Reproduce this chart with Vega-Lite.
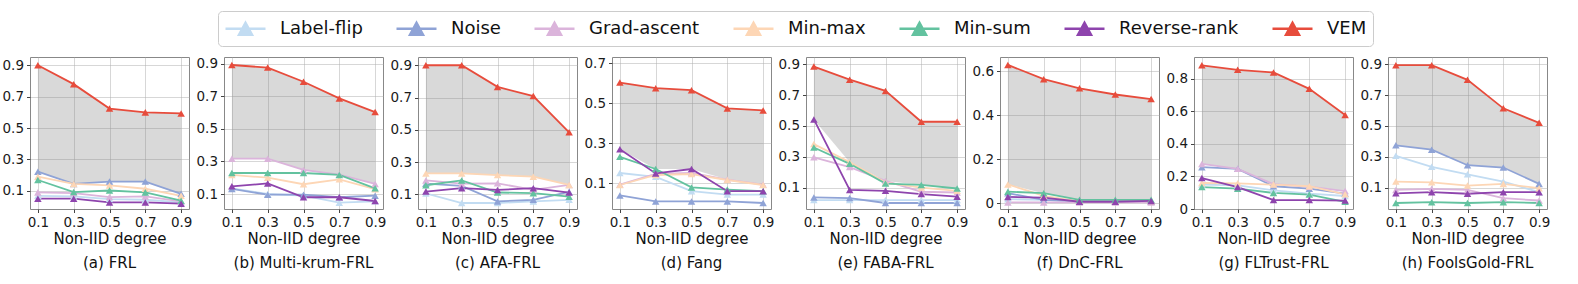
{
"$schema":"https://vega.github.io/schema/vega-lite/v6.json",
"padding":{"left":1,"top":10,"right":5,"bottom":5},
"background":"white",
"datasets":{"d":[
{"p":"a","s":"Label-flip","x":0.1,"v":0.068},{"p":"a","s":"Label-flip","x":0.3,"v":0.064},{"p":"a","s":"Label-flip","x":0.5,"v":0.047},{"p":"a","s":"Label-flip","x":0.7,"v":0.043},{"p":"a","s":"Label-flip","x":0.9,"v":0.026},
{"p":"a","s":"Noise","x":0.1,"v":0.222},{"p":"a","s":"Noise","x":0.3,"v":0.144},{"p":"a","s":"Noise","x":0.5,"v":0.159},{"p":"a","s":"Noise","x":0.7,"v":0.159},{"p":"a","s":"Noise","x":0.9,"v":0.081},
{"p":"a","s":"Grad-ascent","x":0.1,"v":0.09},{"p":"a","s":"Grad-ascent","x":0.3,"v":0.085},{"p":"a","s":"Grad-ascent","x":0.5,"v":0.06},{"p":"a","s":"Grad-ascent","x":0.7,"v":0.064},{"p":"a","s":"Grad-ascent","x":0.9,"v":0.033},
{"p":"a","s":"Min-max","x":0.1,"v":0.19},{"p":"a","s":"Min-max","x":0.3,"v":0.144},{"p":"a","s":"Min-max","x":0.5,"v":0.134},{"p":"a","s":"Min-max","x":0.7,"v":0.113},{"p":"a","s":"Min-max","x":0.9,"v":0.068},
{"p":"a","s":"Min-sum","x":0.1,"v":0.169},{"p":"a","s":"Min-sum","x":0.3,"v":0.092},{"p":"a","s":"Min-sum","x":0.5,"v":0.102},{"p":"a","s":"Min-sum","x":0.7,"v":0.09},{"p":"a","s":"Min-sum","x":0.9,"v":0.037},
{"p":"a","s":"Reverse-rank","x":0.1,"v":0.05},{"p":"a","s":"Reverse-rank","x":0.3,"v":0.05},{"p":"a","s":"Reverse-rank","x":0.5,"v":0.026},{"p":"a","s":"Reverse-rank","x":0.7,"v":0.026},{"p":"a","s":"Reverse-rank","x":0.9,"v":0.018},
{"p":"a","s":"VEM","x":0.1,"v":0.9},{"p":"a","s":"VEM","x":0.3,"v":0.78},{"p":"a","s":"VEM","x":0.5,"v":0.624},{"p":"a","s":"VEM","x":0.7,"v":0.6},{"p":"a","s":"VEM","x":0.9,"v":0.593},
{"p":"b","s":"Label-flip","x":0.1,"v":0.135},{"p":"b","s":"Label-flip","x":0.3,"v":0.1},{"p":"b","s":"Label-flip","x":0.5,"v":0.09},{"p":"b","s":"Label-flip","x":0.7,"v":0.047},{"p":"b","s":"Label-flip","x":0.9,"v":0.055},
{"p":"b","s":"Noise","x":0.1,"v":0.131},{"p":"b","s":"Noise","x":0.3,"v":0.096},{"p":"b","s":"Noise","x":0.5,"v":0.096},{"p":"b","s":"Noise","x":0.7,"v":0.08},{"p":"b","s":"Noise","x":0.9,"v":0.09},
{"p":"b","s":"Grad-ascent","x":0.1,"v":0.317},{"p":"b","s":"Grad-ascent","x":0.3,"v":0.317},{"p":"b","s":"Grad-ascent","x":0.5,"v":0.248},{"p":"b","s":"Grad-ascent","x":0.7,"v":0.219},{"p":"b","s":"Grad-ascent","x":0.9,"v":0.162},
{"p":"b","s":"Min-max","x":0.1,"v":0.217},{"p":"b","s":"Min-max","x":0.3,"v":0.2},{"p":"b","s":"Min-max","x":0.5,"v":0.16},{"p":"b","s":"Min-max","x":0.7,"v":0.19},{"p":"b","s":"Min-max","x":0.9,"v":0.13},
{"p":"b","s":"Min-sum","x":0.1,"v":0.229},{"p":"b","s":"Min-sum","x":0.3,"v":0.229},{"p":"b","s":"Min-sum","x":0.5,"v":0.229},{"p":"b","s":"Min-sum","x":0.7,"v":0.217},{"p":"b","s":"Min-sum","x":0.9,"v":0.135},
{"p":"b","s":"Reverse-rank","x":0.1,"v":0.147},{"p":"b","s":"Reverse-rank","x":0.3,"v":0.165},{"p":"b","s":"Reverse-rank","x":0.5,"v":0.08},{"p":"b","s":"Reverse-rank","x":0.7,"v":0.08},{"p":"b","s":"Reverse-rank","x":0.9,"v":0.057},
{"p":"b","s":"VEM","x":0.1,"v":0.892},{"p":"b","s":"VEM","x":0.3,"v":0.876},{"p":"b","s":"VEM","x":0.5,"v":0.789},{"p":"b","s":"VEM","x":0.7,"v":0.687},{"p":"b","s":"VEM","x":0.9,"v":0.603},
{"p":"c","s":"Label-flip","x":0.1,"v":0.106},{"p":"c","s":"Label-flip","x":0.3,"v":0.047},{"p":"c","s":"Label-flip","x":0.5,"v":0.047},{"p":"c","s":"Label-flip","x":0.7,"v":0.057},{"p":"c","s":"Label-flip","x":0.9,"v":0.067},
{"p":"c","s":"Noise","x":0.1,"v":0.167},{"p":"c","s":"Noise","x":0.3,"v":0.153},{"p":"c","s":"Noise","x":0.5,"v":0.057},{"p":"c","s":"Noise","x":0.7,"v":0.067},{"p":"c","s":"Noise","x":0.9,"v":0.116},
{"p":"c","s":"Grad-ascent","x":0.1,"v":0.187},{"p":"c","s":"Grad-ascent","x":0.3,"v":0.167},{"p":"c","s":"Grad-ascent","x":0.5,"v":0.169},{"p":"c","s":"Grad-ascent","x":0.7,"v":0.128},{"p":"c","s":"Grad-ascent","x":0.9,"v":0.159},
{"p":"c","s":"Min-max","x":0.1,"v":0.23},{"p":"c","s":"Min-max","x":0.3,"v":0.23},{"p":"c","s":"Min-max","x":0.5,"v":0.22},{"p":"c","s":"Min-max","x":0.7,"v":0.21},{"p":"c","s":"Min-max","x":0.9,"v":0.159},
{"p":"c","s":"Min-sum","x":0.1,"v":0.157},{"p":"c","s":"Min-sum","x":0.3,"v":0.187},{"p":"c","s":"Min-sum","x":0.5,"v":0.112},{"p":"c","s":"Min-sum","x":0.7,"v":0.108},{"p":"c","s":"Min-sum","x":0.9,"v":0.086},
{"p":"c","s":"Reverse-rank","x":0.1,"v":0.118},{"p":"c","s":"Reverse-rank","x":0.3,"v":0.139},{"p":"c","s":"Reverse-rank","x":0.5,"v":0.128},{"p":"c","s":"Reverse-rank","x":0.7,"v":0.139},{"p":"c","s":"Reverse-rank","x":0.9,"v":0.112},
{"p":"c","s":"VEM","x":0.1,"v":0.9},{"p":"c","s":"VEM","x":0.3,"v":0.9},{"p":"c","s":"VEM","x":0.5,"v":0.766},{"p":"c","s":"VEM","x":0.7,"v":0.709},{"p":"c","s":"VEM","x":0.9,"v":0.485},
{"p":"d","s":"Label-flip","x":0.1,"v":0.15},{"p":"d","s":"Label-flip","x":0.3,"v":0.131},{"p":"d","s":"Label-flip","x":0.5,"v":0.059},{"p":"d","s":"Label-flip","x":0.7,"v":0.042},{"p":"d","s":"Label-flip","x":0.9,"v":0.042},
{"p":"d","s":"Noise","x":0.1,"v":0.038},{"p":"d","s":"Noise","x":0.3,"v":0.008},{"p":"d","s":"Noise","x":0.5,"v":0.008},{"p":"d","s":"Noise","x":0.7,"v":0.008},{"p":"d","s":"Noise","x":0.9,"v":0.0},
{"p":"d","s":"Grad-ascent","x":0.1,"v":0.092},{"p":"d","s":"Grad-ascent","x":0.3,"v":0.145},{"p":"d","s":"Grad-ascent","x":0.5,"v":0.15},{"p":"d","s":"Grad-ascent","x":0.7,"v":0.117},{"p":"d","s":"Grad-ascent","x":0.9,"v":0.092},
{"p":"d","s":"Min-max","x":0.1,"v":0.09},{"p":"d","s":"Min-max","x":0.3,"v":0.14},{"p":"d","s":"Min-max","x":0.5,"v":0.145},{"p":"d","s":"Min-max","x":0.7,"v":0.115},{"p":"d","s":"Min-max","x":0.9,"v":0.09},
{"p":"d","s":"Min-sum","x":0.1,"v":0.231},{"p":"d","s":"Min-sum","x":0.3,"v":0.17},{"p":"d","s":"Min-sum","x":0.5,"v":0.078},{"p":"d","s":"Min-sum","x":0.7,"v":0.067},{"p":"d","s":"Min-sum","x":0.9,"v":0.059},
{"p":"d","s":"Reverse-rank","x":0.1,"v":0.269},{"p":"d","s":"Reverse-rank","x":0.3,"v":0.148},{"p":"d","s":"Reverse-rank","x":0.5,"v":0.17},{"p":"d","s":"Reverse-rank","x":0.7,"v":0.059},{"p":"d","s":"Reverse-rank","x":0.9,"v":0.059},
{"p":"d","s":"VEM","x":0.1,"v":0.602},{"p":"d","s":"VEM","x":0.3,"v":0.574},{"p":"d","s":"VEM","x":0.5,"v":0.564},{"p":"d","s":"VEM","x":0.7,"v":0.473},{"p":"d","s":"VEM","x":0.9,"v":0.463},
{"p":"e","s":"Label-flip","x":0.1,"v":0.019},{"p":"e","s":"Label-flip","x":0.3,"v":0.019},{"p":"e","s":"Label-flip","x":0.5,"v":0.019},{"p":"e","s":"Label-flip","x":0.7,"v":0.019},{"p":"e","s":"Label-flip","x":0.9,"v":0.019},
{"p":"e","s":"Noise","x":0.1,"v":0.036},{"p":"e","s":"Noise","x":0.3,"v":0.032},{"p":"e","s":"Noise","x":0.5,"v":0.0},{"p":"e","s":"Noise","x":0.7,"v":0.0},{"p":"e","s":"Noise","x":0.9,"v":0.0},
{"p":"e","s":"Grad-ascent","x":0.1,"v":0.296},{"p":"e","s":"Grad-ascent","x":0.3,"v":0.233},{"p":"e","s":"Grad-ascent","x":0.5,"v":0.143},{"p":"e","s":"Grad-ascent","x":0.7,"v":0.073},{"p":"e","s":"Grad-ascent","x":0.9,"v":0.068},
{"p":"e","s":"Min-max","x":0.1,"v":0.382},{"p":"e","s":"Min-max","x":0.3,"v":0.265},{"p":"e","s":"Min-max","x":0.5,"v":0.132},{"p":"e","s":"Min-max","x":0.7,"v":0.1},{"p":"e","s":"Min-max","x":0.9,"v":0.079},
{"p":"e","s":"Min-sum","x":0.1,"v":0.36},{"p":"e","s":"Min-sum","x":0.3,"v":0.254},{"p":"e","s":"Min-sum","x":0.5,"v":0.126},{"p":"e","s":"Min-sum","x":0.7,"v":0.117},{"p":"e","s":"Min-sum","x":0.9,"v":0.094},
{"p":"e","s":"Reverse-rank","x":0.1,"v":0.542},{"p":"e","s":"Reverse-rank","x":0.3,"v":0.085},{"p":"e","s":"Reverse-rank","x":0.5,"v":0.079},{"p":"e","s":"Reverse-rank","x":0.7,"v":0.058},{"p":"e","s":"Reverse-rank","x":0.9,"v":0.041},
{"p":"e","s":"VEM","x":0.1,"v":0.885},{"p":"e","s":"VEM","x":0.3,"v":0.8},{"p":"e","s":"VEM","x":0.5,"v":0.727},{"p":"e","s":"VEM","x":0.7,"v":0.527},{"p":"e","s":"VEM","x":0.9,"v":0.527},
{"p":"f","s":"Label-flip","x":0.1,"v":0.018},{"p":"f","s":"Label-flip","x":0.3,"v":0.015},{"p":"f","s":"Label-flip","x":0.5,"v":0.008},{"p":"f","s":"Label-flip","x":0.7,"v":0.008},{"p":"f","s":"Label-flip","x":0.9,"v":0.008},
{"p":"f","s":"Noise","x":0.1,"v":0.045},{"p":"f","s":"Noise","x":0.3,"v":0.015},{"p":"f","s":"Noise","x":0.5,"v":0.008},{"p":"f","s":"Noise","x":0.7,"v":0.008},{"p":"f","s":"Noise","x":0.9,"v":0.008},
{"p":"f","s":"Grad-ascent","x":0.1,"v":0.003},{"p":"f","s":"Grad-ascent","x":0.3,"v":0.003},{"p":"f","s":"Grad-ascent","x":0.5,"v":0.003},{"p":"f","s":"Grad-ascent","x":0.7,"v":0.003},{"p":"f","s":"Grad-ascent","x":0.9,"v":0.003},
{"p":"f","s":"Min-max","x":0.1,"v":0.085},{"p":"f","s":"Min-max","x":0.3,"v":0.033},{"p":"f","s":"Min-max","x":0.5,"v":0.008},{"p":"f","s":"Min-max","x":0.7,"v":0.008},{"p":"f","s":"Min-max","x":0.9,"v":0.01},
{"p":"f","s":"Min-sum","x":0.1,"v":0.052},{"p":"f","s":"Min-sum","x":0.3,"v":0.045},{"p":"f","s":"Min-sum","x":0.5,"v":0.015},{"p":"f","s":"Min-sum","x":0.7,"v":0.015},{"p":"f","s":"Min-sum","x":0.9,"v":0.015},
{"p":"f","s":"Reverse-rank","x":0.1,"v":0.028},{"p":"f","s":"Reverse-rank","x":0.3,"v":0.025},{"p":"f","s":"Reverse-rank","x":0.5,"v":0.006},{"p":"f","s":"Reverse-rank","x":0.7,"v":0.006},{"p":"f","s":"Reverse-rank","x":0.9,"v":0.01},
{"p":"f","s":"VEM","x":0.1,"v":0.63},{"p":"f","s":"VEM","x":0.3,"v":0.565},{"p":"f","s":"VEM","x":0.5,"v":0.523},{"p":"f","s":"VEM","x":0.7,"v":0.495},{"p":"f","s":"VEM","x":0.9,"v":0.474},
{"p":"g","s":"Label-flip","x":0.1,"v":0.15},{"p":"g","s":"Label-flip","x":0.3,"v":0.145},{"p":"g","s":"Label-flip","x":0.5,"v":0.115},{"p":"g","s":"Label-flip","x":0.7,"v":0.095},{"p":"g","s":"Label-flip","x":0.9,"v":0.08},
{"p":"g","s":"Noise","x":0.1,"v":0.257},{"p":"g","s":"Noise","x":0.3,"v":0.247},{"p":"g","s":"Noise","x":0.5,"v":0.14},{"p":"g","s":"Noise","x":0.7,"v":0.125},{"p":"g","s":"Noise","x":0.9,"v":0.095},
{"p":"g","s":"Grad-ascent","x":0.1,"v":0.277},{"p":"g","s":"Grad-ascent","x":0.3,"v":0.247},{"p":"g","s":"Grad-ascent","x":0.5,"v":0.153},{"p":"g","s":"Grad-ascent","x":0.7,"v":0.137},{"p":"g","s":"Grad-ascent","x":0.9,"v":0.11},
{"p":"g","s":"Min-max","x":0.1,"v":0.16},{"p":"g","s":"Min-max","x":0.3,"v":0.158},{"p":"g","s":"Min-max","x":0.5,"v":0.15},{"p":"g","s":"Min-max","x":0.7,"v":0.14},{"p":"g","s":"Min-max","x":0.9,"v":0.09},
{"p":"g","s":"Min-sum","x":0.1,"v":0.135},{"p":"g","s":"Min-sum","x":0.3,"v":0.125},{"p":"g","s":"Min-sum","x":0.5,"v":0.099},{"p":"g","s":"Min-sum","x":0.7,"v":0.089},{"p":"g","s":"Min-sum","x":0.9,"v":0.044},
{"p":"g","s":"Reverse-rank","x":0.1,"v":0.19},{"p":"g","s":"Reverse-rank","x":0.3,"v":0.135},{"p":"g","s":"Reverse-rank","x":0.5,"v":0.055},{"p":"g","s":"Reverse-rank","x":0.7,"v":0.055},{"p":"g","s":"Reverse-rank","x":0.9,"v":0.052},
{"p":"g","s":"VEM","x":0.1,"v":0.884},{"p":"g","s":"VEM","x":0.3,"v":0.856},{"p":"g","s":"VEM","x":0.5,"v":0.84},{"p":"g","s":"VEM","x":0.7,"v":0.739},{"p":"g","s":"VEM","x":0.9,"v":0.578},
{"p":"h","s":"Label-flip","x":0.1,"v":0.306},{"p":"h","s":"Label-flip","x":0.3,"v":0.235},{"p":"h","s":"Label-flip","x":0.5,"v":0.186},{"p":"h","s":"Label-flip","x":0.7,"v":0.139},{"p":"h","s":"Label-flip","x":0.9,"v":0.07},
{"p":"h","s":"Noise","x":0.1,"v":0.374},{"p":"h","s":"Noise","x":0.3,"v":0.346},{"p":"h","s":"Noise","x":0.5,"v":0.245},{"p":"h","s":"Noise","x":0.7,"v":0.23},{"p":"h","s":"Noise","x":0.9,"v":0.124},
{"p":"h","s":"Grad-ascent","x":0.1,"v":0.085},{"p":"h","s":"Grad-ascent","x":0.3,"v":0.092},{"p":"h","s":"Grad-ascent","x":0.5,"v":0.085},{"p":"h","s":"Grad-ascent","x":0.7,"v":0.031},{"p":"h","s":"Grad-ascent","x":0.9,"v":0.016},
{"p":"h","s":"Min-max","x":0.1,"v":0.139},{"p":"h","s":"Min-max","x":0.3,"v":0.134},{"p":"h","s":"Min-max","x":0.5,"v":0.113},{"p":"h","s":"Min-max","x":0.7,"v":0.124},{"p":"h","s":"Min-max","x":0.9,"v":0.096},
{"p":"h","s":"Min-sum","x":0.1,"v":0.0},{"p":"h","s":"Min-sum","x":0.3,"v":0.005},{"p":"h","s":"Min-sum","x":0.5,"v":0.0},{"p":"h","s":"Min-sum","x":0.7,"v":0.005},{"p":"h","s":"Min-sum","x":0.9,"v":0.0},
{"p":"h","s":"Reverse-rank","x":0.1,"v":0.063},{"p":"h","s":"Reverse-rank","x":0.3,"v":0.07},{"p":"h","s":"Reverse-rank","x":0.5,"v":0.06},{"p":"h","s":"Reverse-rank","x":0.7,"v":0.07},{"p":"h","s":"Reverse-rank","x":0.9,"v":0.07},
{"p":"h","s":"VEM","x":0.1,"v":0.894},{"p":"h","s":"VEM","x":0.3,"v":0.894},{"p":"h","s":"VEM","x":0.5,"v":0.799},{"p":"h","s":"VEM","x":0.7,"v":0.614},{"p":"h","s":"VEM","x":0.9,"v":0.52}
]},
"data":{"name":"d"},
"spacing":35,
"bounds":"flush",
"hconcat":[
{"title":"(a) FRL","width":159,"height":152,"transform":[{"filter":"datum.p=='a'"}],
"encoding":{"x":{"field":"x","type":"quantitative","scale":{"domain":[0.056,0.944],"nice":false,"zero":false},"axis":{"values":[0.1,0.3,0.5,0.7,0.9],"format":".1f","title":"Non-IID degree","labelOverlap":false,"tickCount":20}}},
"layer":[
{"transform":[{"window":[{"op":"first_value","field":"v","as":"hi"},{"op":"nth_value","param":2,"field":"v","as":"lo"}],"sort":[{"field":"v","order":"descending"}],"groupby":["x"],"frame":[null,null]},{"filter":"datum.s=='VEM'"}],
"mark":{"type":"area","color":"#808080","opacity":0.3},
"encoding":{"y":{"field":"hi","type":"quantitative","scale":{"domain":[-0.016,0.953],"nice":false,"zero":false},"axis":{"values":[0.1,0.3,0.5,0.7,0.9],"format":".1~f","title":null,"labelOverlap":false,"tickCount":20}},"y2":{"field":"lo"}}},
{"mark":{"type":"line","strokeWidth":1.8},
"encoding":{"y":{"field":"v","type":"quantitative","scale":{"domain":[-0.016,0.953],"nice":false,"zero":false}},"color":{"field":"s","type":"nominal","scale":{"domain":["Label-flip","Noise","Grad-ascent","Min-max","Min-sum","Reverse-rank","VEM"],"range":["#c2dcf2","#8fa3d6","#dbb4db","#fdd6b5","#63c29f","#8e44ad","#e74c3c"]},"legend":{"orient":"none","legendX":188,"legendY":-46,"title":null,"encode":{"symbols":{"update":{"fill":{"scale":"color","field":"value"},"stroke":{"scale":"color","field":"value"},"opacity":{"value":1}}}}}}}},
{"mark":{"type":"point","shape":"M-1,0.87L0,-0.87L1,0.87Z","filled":true,"size":56,"opacity":1},
"encoding":{"y":{"field":"v","type":"quantitative","scale":{"domain":[-0.016,0.953],"nice":false,"zero":false}},"color":{"field":"s","type":"nominal","legend":{"orient":"none","legendX":188,"legendY":-46,"title":null,"encode":{"symbols":{"update":{"fill":{"scale":"color","field":"value"},"stroke":{"scale":"color","field":"value"},"opacity":{"value":1}}}}}}}}
]},
{"title":"(b) Multi-krum-FRL","width":159,"height":152,"transform":[{"filter":"datum.p=='b'"}],
"encoding":{"x":{"field":"x","type":"quantitative","scale":{"domain":[0.056,0.944],"nice":false,"zero":false},"axis":{"values":[0.1,0.3,0.5,0.7,0.9],"format":".1f","title":"Non-IID degree","labelOverlap":false,"tickCount":20}}},
"layer":[
{"transform":[{"window":[{"op":"first_value","field":"v","as":"hi"},{"op":"nth_value","param":2,"field":"v","as":"lo"}],"sort":[{"field":"v","order":"descending"}],"groupby":["x"],"frame":[null,null]},{"filter":"datum.s=='VEM'"}],
"mark":{"type":"area","color":"#808080","opacity":0.3},
"encoding":{"y":{"field":"hi","type":"quantitative","scale":{"domain":[0.008,0.941],"nice":false,"zero":false},"axis":{"values":[0.1,0.3,0.5,0.7,0.9],"format":".1~f","title":null,"labelOverlap":false,"tickCount":20}},"y2":{"field":"lo"}}},
{"mark":{"type":"line","strokeWidth":1.8},
"encoding":{"y":{"field":"v","type":"quantitative","scale":{"domain":[0.008,0.941],"nice":false,"zero":false}},"color":{"field":"s","type":"nominal"}}},
{"mark":{"type":"point","shape":"M-1,0.87L0,-0.87L1,0.87Z","filled":true,"size":56,"opacity":1},
"encoding":{"y":{"field":"v","type":"quantitative","scale":{"domain":[0.008,0.941],"nice":false,"zero":false}},"color":{"field":"s","type":"nominal"}}}
]},
{"title":"(c) AFA-FRL","width":159,"height":152,"transform":[{"filter":"datum.p=='c'"}],
"encoding":{"x":{"field":"x","type":"quantitative","scale":{"domain":[0.056,0.944],"nice":false,"zero":false},"axis":{"values":[0.1,0.3,0.5,0.7,0.9],"format":".1f","title":"Non-IID degree","labelOverlap":false,"tickCount":20}}},
"layer":[
{"transform":[{"window":[{"op":"first_value","field":"v","as":"hi"},{"op":"nth_value","param":2,"field":"v","as":"lo"}],"sort":[{"field":"v","order":"descending"}],"groupby":["x"],"frame":[null,null]},{"filter":"datum.s=='VEM'"}],
"mark":{"type":"area","color":"#808080","opacity":0.3},
"encoding":{"y":{"field":"hi","type":"quantitative","scale":{"domain":[0.01,0.951],"nice":false,"zero":false},"axis":{"values":[0.1,0.3,0.5,0.7,0.9],"format":".1~f","title":null,"labelOverlap":false,"tickCount":20}},"y2":{"field":"lo"}}},
{"mark":{"type":"line","strokeWidth":1.8},
"encoding":{"y":{"field":"v","type":"quantitative","scale":{"domain":[0.01,0.951],"nice":false,"zero":false}},"color":{"field":"s","type":"nominal"}}},
{"mark":{"type":"point","shape":"M-1,0.87L0,-0.87L1,0.87Z","filled":true,"size":56,"opacity":1},
"encoding":{"y":{"field":"v","type":"quantitative","scale":{"domain":[0.01,0.951],"nice":false,"zero":false}},"color":{"field":"s","type":"nominal"}}}
]},
{"title":"(d) Fang","width":159,"height":152,"transform":[{"filter":"datum.p=='d'"}],
"encoding":{"x":{"field":"x","type":"quantitative","scale":{"domain":[0.056,0.944],"nice":false,"zero":false},"axis":{"values":[0.1,0.3,0.5,0.7,0.9],"format":".1f","title":"Non-IID degree","labelOverlap":false,"tickCount":20}}},
"layer":[
{"transform":[{"window":[{"op":"first_value","field":"v","as":"hi"},{"op":"nth_value","param":2,"field":"v","as":"lo"}],"sort":[{"field":"v","order":"descending"}],"groupby":["x"],"frame":[null,null]},{"filter":"datum.s=='VEM'"}],
"mark":{"type":"area","color":"#808080","opacity":0.3},
"encoding":{"y":{"field":"hi","type":"quantitative","scale":{"domain":[-0.03,0.73],"nice":false,"zero":false},"axis":{"values":[0.1,0.3,0.5,0.7],"format":".1~f","title":null,"labelOverlap":false,"tickCount":20}},"y2":{"field":"lo"}}},
{"mark":{"type":"line","strokeWidth":1.8},
"encoding":{"y":{"field":"v","type":"quantitative","scale":{"domain":[-0.03,0.73],"nice":false,"zero":false}},"color":{"field":"s","type":"nominal"}}},
{"mark":{"type":"point","shape":"M-1,0.87L0,-0.87L1,0.87Z","filled":true,"size":56,"opacity":1},
"encoding":{"y":{"field":"v","type":"quantitative","scale":{"domain":[-0.03,0.73],"nice":false,"zero":false}},"color":{"field":"s","type":"nominal"}}}
]},
{"title":"(e) FABA-FRL","width":159,"height":152,"transform":[{"filter":"datum.p=='e'"}],
"encoding":{"x":{"field":"x","type":"quantitative","scale":{"domain":[0.056,0.944],"nice":false,"zero":false},"axis":{"values":[0.1,0.3,0.5,0.7,0.9],"format":".1f","title":"Non-IID degree","labelOverlap":false,"tickCount":20}}},
"layer":[
{"transform":[{"window":[{"op":"first_value","field":"v","as":"hi"},{"op":"nth_value","param":2,"field":"v","as":"lo"}],"sort":[{"field":"v","order":"descending"}],"groupby":["x"],"frame":[null,null]},{"filter":"datum.s=='VEM'"}],
"mark":{"type":"area","color":"#808080","opacity":0.3},
"encoding":{"y":{"field":"hi","type":"quantitative","scale":{"domain":[-0.039,0.947],"nice":false,"zero":false},"axis":{"values":[0.1,0.3,0.5,0.7,0.9],"format":".1~f","title":null,"labelOverlap":false,"tickCount":20}},"y2":{"field":"lo"}}},
{"mark":{"type":"line","strokeWidth":1.8},
"encoding":{"y":{"field":"v","type":"quantitative","scale":{"domain":[-0.039,0.947],"nice":false,"zero":false}},"color":{"field":"s","type":"nominal"}}},
{"mark":{"type":"point","shape":"M-1,0.87L0,-0.87L1,0.87Z","filled":true,"size":56,"opacity":1},
"encoding":{"y":{"field":"v","type":"quantitative","scale":{"domain":[-0.039,0.947],"nice":false,"zero":false}},"color":{"field":"s","type":"nominal"}}}
]},
{"title":"(f) DnC-FRL","width":159,"height":152,"transform":[{"filter":"datum.p=='f'"}],
"encoding":{"x":{"field":"x","type":"quantitative","scale":{"domain":[0.056,0.944],"nice":false,"zero":false},"axis":{"values":[0.1,0.3,0.5,0.7,0.9],"format":".1f","title":"Non-IID degree","labelOverlap":false,"tickCount":20}}},
"layer":[
{"transform":[{"window":[{"op":"first_value","field":"v","as":"hi"},{"op":"nth_value","param":2,"field":"v","as":"lo"}],"sort":[{"field":"v","order":"descending"}],"groupby":["x"],"frame":[null,null]},{"filter":"datum.s=='VEM'"}],
"mark":{"type":"area","color":"#808080","opacity":0.3},
"encoding":{"y":{"field":"hi","type":"quantitative","scale":{"domain":[-0.027,0.666],"nice":false,"zero":false},"axis":{"values":[0,0.2,0.4,0.6],"format":".1~f","title":null,"labelOverlap":false,"tickCount":20}},"y2":{"field":"lo"}}},
{"mark":{"type":"line","strokeWidth":1.8},
"encoding":{"y":{"field":"v","type":"quantitative","scale":{"domain":[-0.027,0.666],"nice":false,"zero":false}},"color":{"field":"s","type":"nominal"}}},
{"mark":{"type":"point","shape":"M-1,0.87L0,-0.87L1,0.87Z","filled":true,"size":56,"opacity":1},
"encoding":{"y":{"field":"v","type":"quantitative","scale":{"domain":[-0.027,0.666],"nice":false,"zero":false}},"color":{"field":"s","type":"nominal"}}}
]},
{"title":"(g) FLTrust-FRL","width":159,"height":152,"transform":[{"filter":"datum.p=='g'"}],
"encoding":{"x":{"field":"x","type":"quantitative","scale":{"domain":[0.056,0.944],"nice":false,"zero":false},"axis":{"values":[0.1,0.3,0.5,0.7,0.9],"format":".1f","title":"Non-IID degree","labelOverlap":false,"tickCount":20}}},
"layer":[
{"transform":[{"window":[{"op":"first_value","field":"v","as":"hi"},{"op":"nth_value","param":2,"field":"v","as":"lo"}],"sort":[{"field":"v","order":"descending"}],"groupby":["x"],"frame":[null,null]},{"filter":"datum.s=='VEM'"}],
"mark":{"type":"area","color":"#808080","opacity":0.3},
"encoding":{"y":{"field":"hi","type":"quantitative","scale":{"domain":[0,0.935],"nice":false,"zero":false},"axis":{"values":[0,0.2,0.4,0.6,0.8],"format":".1~f","title":null,"labelOverlap":false,"tickCount":20}},"y2":{"field":"lo"}}},
{"mark":{"type":"line","strokeWidth":1.8},
"encoding":{"y":{"field":"v","type":"quantitative","scale":{"domain":[0,0.935],"nice":false,"zero":false}},"color":{"field":"s","type":"nominal"}}},
{"mark":{"type":"point","shape":"M-1,0.87L0,-0.87L1,0.87Z","filled":true,"size":56,"opacity":1},
"encoding":{"y":{"field":"v","type":"quantitative","scale":{"domain":[0,0.935],"nice":false,"zero":false}},"color":{"field":"s","type":"nominal"}}}
]},
{"title":"(h) FoolsGold-FRL","width":159,"height":152,"transform":[{"filter":"datum.p=='h'"}],
"encoding":{"x":{"field":"x","type":"quantitative","scale":{"domain":[0.056,0.944],"nice":false,"zero":false},"axis":{"values":[0.1,0.3,0.5,0.7,0.9],"format":".1f","title":"Non-IID degree","labelOverlap":false,"tickCount":20}}},
"layer":[
{"transform":[{"window":[{"op":"first_value","field":"v","as":"hi"},{"op":"nth_value","param":2,"field":"v","as":"lo"}],"sort":[{"field":"v","order":"descending"}],"groupby":["x"],"frame":[null,null]},{"filter":"datum.s=='VEM'"}],
"mark":{"type":"area","color":"#808080","opacity":0.3},
"encoding":{"y":{"field":"hi","type":"quantitative","scale":{"domain":[-0.039,0.947],"nice":false,"zero":false},"axis":{"values":[0.1,0.3,0.5,0.7,0.9],"format":".1~f","title":null,"labelOverlap":false,"tickCount":20}},"y2":{"field":"lo"}}},
{"mark":{"type":"line","strokeWidth":1.8},
"encoding":{"y":{"field":"v","type":"quantitative","scale":{"domain":[-0.039,0.947],"nice":false,"zero":false}},"color":{"field":"s","type":"nominal"}}},
{"mark":{"type":"point","shape":"M-1,0.87L0,-0.87L1,0.87Z","filled":true,"size":56,"opacity":1},
"encoding":{"y":{"field":"v","type":"quantitative","scale":{"domain":[-0.039,0.947],"nice":false,"zero":false}},"color":{"field":"s","type":"nominal"}}}
]}
],
"config":{
"view":{"stroke":"#888888","strokeWidth":1},
"axis":{"labelFont":"DejaVu Sans","labelFontSize":13.5,"labelColor":"#1a1a1a","titleFont":"DejaVu Sans","titleFontSize":15,"titleFontWeight":"normal","titleColor":"#111111","tickColor":"#444444","tickSize":3.5,"domain":false,"gridColor":"#b0b0b0","gridOpacity":0.5,"labelPadding":3,"titlePadding":2,"labelFlush":false,"labelOverlap":false},
"title":{"orient":"bottom","font":"DejaVu Sans","fontSize":15,"fontWeight":"normal","color":"#111111","anchor":"middle","offset":10},
"legend":{"direction":"horizontal","columns":7,"symbolType":"M-1,0H3M0.35,0.6L1,-0.6L1.65,0.6Z","symbolSize":400,"symbolStrokeWidth":2.5,"labelFont":"DejaVu Sans","labelFontSize":18,"labelColor":"#111111","labelOffset":33,"columnPadding":28,"padding":6,"strokeColor":"#cccccc","cornerRadius":4,"fillColor":"white","labelLimit":300}
}
}
